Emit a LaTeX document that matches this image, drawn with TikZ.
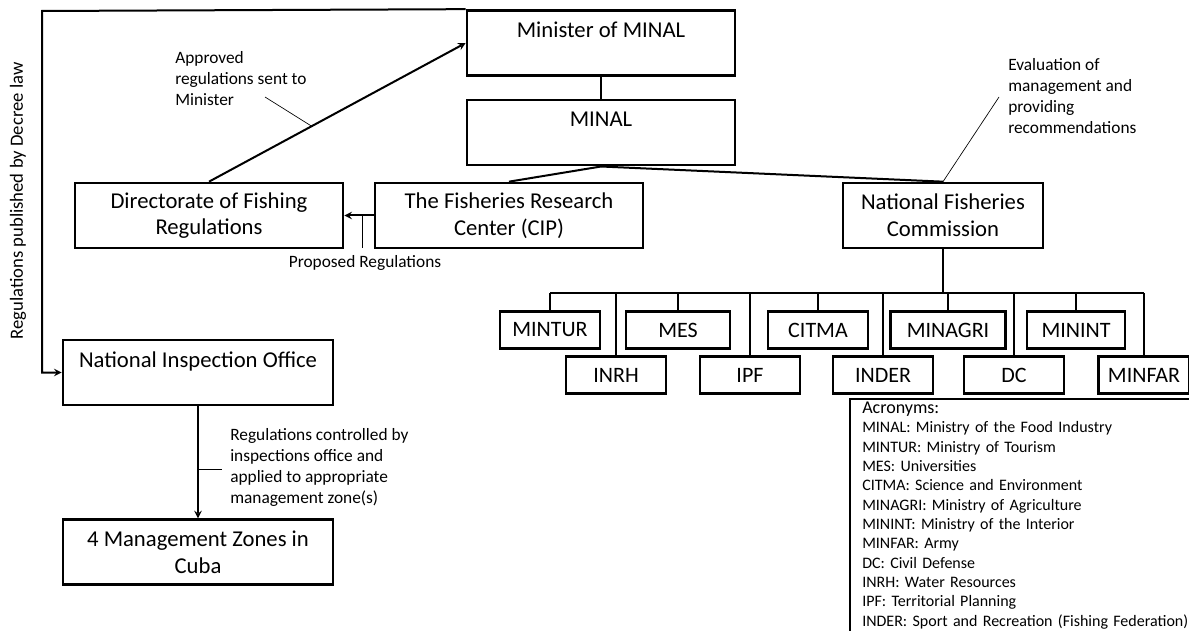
\documentclass[tikz,border=0pt]{standalone}
\usepackage{fontspec}
\setmainfont{Carlito}
\usetikzlibrary{arrows, calc, positioning}
\tikzstyle{unit} = [rectangle, draw=black, line width=2pt, minimum width=201pt,
minimum height=48.75pt, align=center, inner sep=2pt, font=\fontsize{17}{20}\selectfont]
\tikzstyle{agency} = [rectangle, draw=black, line width=2pt, minimum width=75pt,
minimum height=28pt, inner sep=2pt, font=\fontsize{16.5}{19}\selectfont]
\tikzstyle{note} = [align=left, inner sep=0pt, font=\fontsize{13}{15.75}\selectfont]
\tikzstyle{arrow} = [line width=1.5pt, ->, >=stealth]
\tikzstyle{line} = [line width=1.5pt, -]
\tikzstyle{lead} = [line width=0.5pt, -]

\begin{document}
\begin{tikzpicture}[x=0.75pt, y=-0.75pt]

        \useasboundingbox (0,0) rectangle (1189,631);
        % \draw[help lines] (0,0) grid (1189,631);

        \node (MIN) [unit] at (601,43) {Minister of MINAL\\ \mbox{}};
        \node (MINAL) [unit, below=16.5pt of MIN] {MINAL\\ \mbox{}};

        \node (DFR) [unit] at (209,215.5) {Directorate of Fishing\\ Regulations};
        \node (CIP) [unit] at (509,215.5) {The Fisheries Research\\ Center (CIP)};
        \node (NFC) [unit, minimum width=150pt] at (943,215.5) {National Fisheries\\ Commission};

        \node (NIO) [unit, minimum width=202.5pt] at (198,372.5) {National Inspection Office\\ \mbox{}};
        \node (ZONES) [unit, minimum width=202.5pt, below=84pt of NIO] {4 Management Zones in\\ Cuba};

        % agencies of the commission, two staggered rows
        \node (MINTUR) [agency] at (550,330) {MINTUR};
        \node (MES) [agency, minimum width=78pt] at (678,330) {MES};
        \node (CITMA) [agency] at (818,330) {CITMA};
        \node (MINAGRI) [agency, minimum width=86pt] at (948,330) {MINAGRI};
        \node (MININT) [agency, minimum width=73.5pt] at (1076,330) {MININT};

        \node (INRH) [agency] at (616,375) {INRH};
        \node (IPF) [agency] at (750,375) {IPF};
        \node (INDER) [agency] at (883,375) {INDER};
        \node (DC) [agency] at (1014,375) {DC};
        \node (MINFAR) [agency, minimum width=68pt] at (1144,375) {MINFAR};

        \coordinate (BUS) at (943,293);

        \draw [line] (MIN) -- (MINAL);
        \draw [line] (MINAL.south) -- (CIP.north);
        \draw [line] (MINAL.south) -- (NFC.north);

        \draw [line] (NFC.south) -- (BUS);
        \draw [line] (MINTUR.north |- BUS) -- (MINFAR.north |- BUS);
        \draw [line] (MINTUR.north |- BUS) -- (MINTUR.north);
        \draw [line] (INRH.north |- BUS) -- (INRH.north);
        \draw [line] (MES.north |- BUS) -- (MES.north);
        \draw [line] (IPF.north |- BUS) -- (IPF.north);
        \draw [line] (CITMA.north |- BUS) -- (CITMA.north);
        \draw [line] (INDER.north |- BUS) -- (INDER.north);
        \draw [line] (MINAGRI.north |- BUS) -- (MINAGRI.north);
        \draw [line] (DC.north |- BUS) -- (DC.north);
        \draw [line] (MININT.north |- BUS) -- (MININT.north);
        \draw [line] (MINFAR.north |- BUS) -- (MINFAR.north);

        % approved regulations go up to the minister
        \draw [arrow] (DFR.north) -- (MIN.west) coordinate[pos=0.4] (A1);
        \node (APP) [note, anchor=north west] at (175,51) {Approved\\ regulations sent to\\ Minister};
        \coordinate (A2) at (265,97);
        \draw [lead] (A1) -- (A2);

        \draw [arrow] (CIP.west) -- (DFR.east) coordinate[pos=0.4] (P1);
        \node (PROP) [note] at (365,263) {Proposed Regulations};
        \draw [lead] (P1) -- (P1 |- 0,248);

        \coordinate (E2) at (999,97);
        \draw [lead] (NFC.north) -- (E2);
        \node (EVAL) [note, anchor=north west] at (1008,58) {Evaluation of\\ management and\\ providing\\ recommendations};

        % decree law back down to the inspection office
        \coordinate (TL) at (42,11);
        \draw [arrow] (MIN.north west) -- (TL) |- (NIO.west);
        \node (DECREE) [note, rotate=90, font=\fontsize{14}{16}\selectfont] at (18,201) {Regulations published by Decree law};

        \draw [arrow] (NIO) -- (ZONES) coordinate[pos=0.56] (C1);
        \draw [lead] (C1) -- ++(24,0);
        \node (CTRL) [note, anchor=north west] at (230,428) {Regulations controlled by\\ inspections office and\\ applied to appropriate\\ management zone(s)};

        % acronym list, its box runs off the right and bottom edges
        \node (ACR) [anchor=north west, align=left, text width=245pt,
        inner xsep=9pt, inner ysep=2pt, font=\fontsize{12}{14.5}\selectfont] at (850,399)
        {{\fontsize{13.5}{15}\selectfont Acronyms:}\\
        MINAL: Ministry of the Food Industry\\
        MINTUR: Ministry of Tourism\\
        MES: Universities\\
        CITMA: Science and Environment\\
        MINAGRI: Ministry of Agriculture\\
        MININT: Ministry of the Interior\\
        MINFAR: Army\\
        DC: Civil Defense\\
        INRH: Water Resources\\
        IPF: Territorial Planning\\
        INDER: Sport and Recreation (Fishing Federation)};
        \draw [lead, line width=0.8pt] (ACR.north west |- 0,631) -- (ACR.north west) -- (ACR.north west -| 1189,0);

\end{tikzpicture}
\end{document}
